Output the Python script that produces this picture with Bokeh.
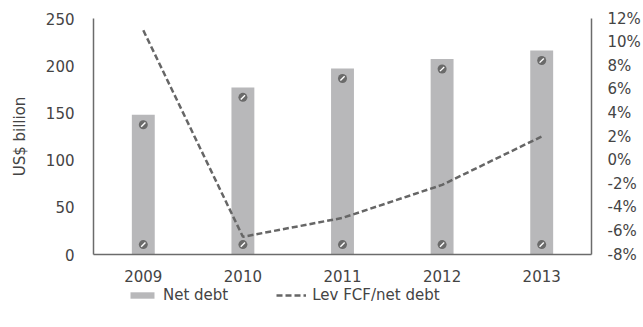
from bokeh.plotting import figure
from bokeh.layouts import column
from bokeh.models import (Range1d, FactorRange, LinearAxis, SingleIntervalTicker,
                          PrintfTickFormatter, Legend, LegendItem, ColumnDataSource)
from bokeh.embed import file_html
from bokeh.resources import INLINE
import math

years = ["2009", "2010", "2011", "2012", "2013"]
net_debt = [148, 177, 197, 207, 216]
lev_fcf = [11.0, -6.5, -4.9, -2.1, 2.0]
series_names = ["Net debt", "Lev FCF/net debt"]

FONT = "DejaVu Sans"
TXT = "#444444"
AX = "#6b6b6b"
BAR = "#b8b8ba"
LINE = "#666666"

p = figure(width=643, height=284, x_range=FactorRange(*years, range_padding=0),
           y_range=Range1d(0, 250), output_backend="svg", toolbar_location=None,
           min_border_left=93, min_border_right=48, min_border_top=18, min_border_bottom=29)
p.outline_line_color = None
p.xgrid.visible = False
p.ygrid.visible = False
p.extra_y_ranges = {"pct": Range1d(-8, 12)}

src = ColumnDataSource(dict(x=years, top=net_debt, lev=lev_fcf,
                            lo=[10.5] * len(years),
                            hi=[v - 10.5 for v in net_debt]))
p.vbar(x="x", top="top", width=0.23, source=src, fill_color=BAR, line_color=None)
for col in ("lo", "hi"):
    p.scatter(x="x", y=col, source=src, marker="circle", size=9, fill_color="#6a6a6a", line_color=None)
    p.scatter(x="x", y=col, source=src, marker="dash", size=6, angle=math.pi / 4,
              line_color="white", line_width=1.4)

p.line(x="x", y="lev", source=src, y_range_name="pct", line_color=LINE, line_width=2.5, line_dash="6 3")

ya = p.yaxis[0]
ya.ticker = SingleIntervalTicker(interval=50)
ya.axis_label = "US$ billion"
ya.axis_label_text_font = FONT
ya.axis_label_text_font_style = "normal"
ya.axis_label_text_font_size = "15px"
ya.axis_label_text_color = TXT
ya.axis_label_standoff = 14

ra = LinearAxis(y_range_name="pct", ticker=SingleIntervalTicker(interval=2),
                formatter=PrintfTickFormatter(format="%d%%"))
p.add_layout(ra, "right")

for ax in (ya, ra, p.xaxis[0]):
    ax.axis_line_color = AX
    ax.axis_line_width = 1.5
    ax.major_tick_line_color = None
    ax.minor_tick_line_color = None
    ax.major_label_text_font = FONT
    ax.major_label_text_font_size = "15px"
    ax.major_label_text_color = TXT
ya.major_label_standoff = 13
ra.major_label_standoff = 10
p.xaxis[0].major_label_standoff = 9

# legend strip: same data, drawn far outside its (empty) view so only the legend shows
lg = figure(width=643, height=43, x_range=FactorRange(*years), y_range=Range1d(1000, 1001),
            x_axis_type=None, y_axis_type=None,
            output_backend="svg", toolbar_location=None,
            min_border_left=0, min_border_right=0, min_border_top=0, min_border_bottom=0)
lg.grid.visible = False
lg.outline_line_color = None
r_bar = lg.vbar(x="x", top="top", width=0.23, source=src, fill_color=BAR, line_color=None)
r_line = lg.line(x="x", y="lev", source=src, line_color=LINE, line_width=2.5, line_dash="6 3")
legend = Legend(items=[LegendItem(label=series_names[0], renderers=[r_bar]),
                       LegendItem(label=series_names[1], renderers=[r_line])],
                orientation="horizontal", location=(34, 23),
                glyph_width=30, glyph_height=8, label_standoff=6, spacing=48,
                padding=0, margin=0, border_line_color=None, background_fill_alpha=0,
                label_text_font=FONT, label_text_font_size="15px", label_text_color=TXT)
lg.add_layout(legend, "center")

open("out.html", "w").write(file_html(column(p, lg, spacing=0), INLINE))
